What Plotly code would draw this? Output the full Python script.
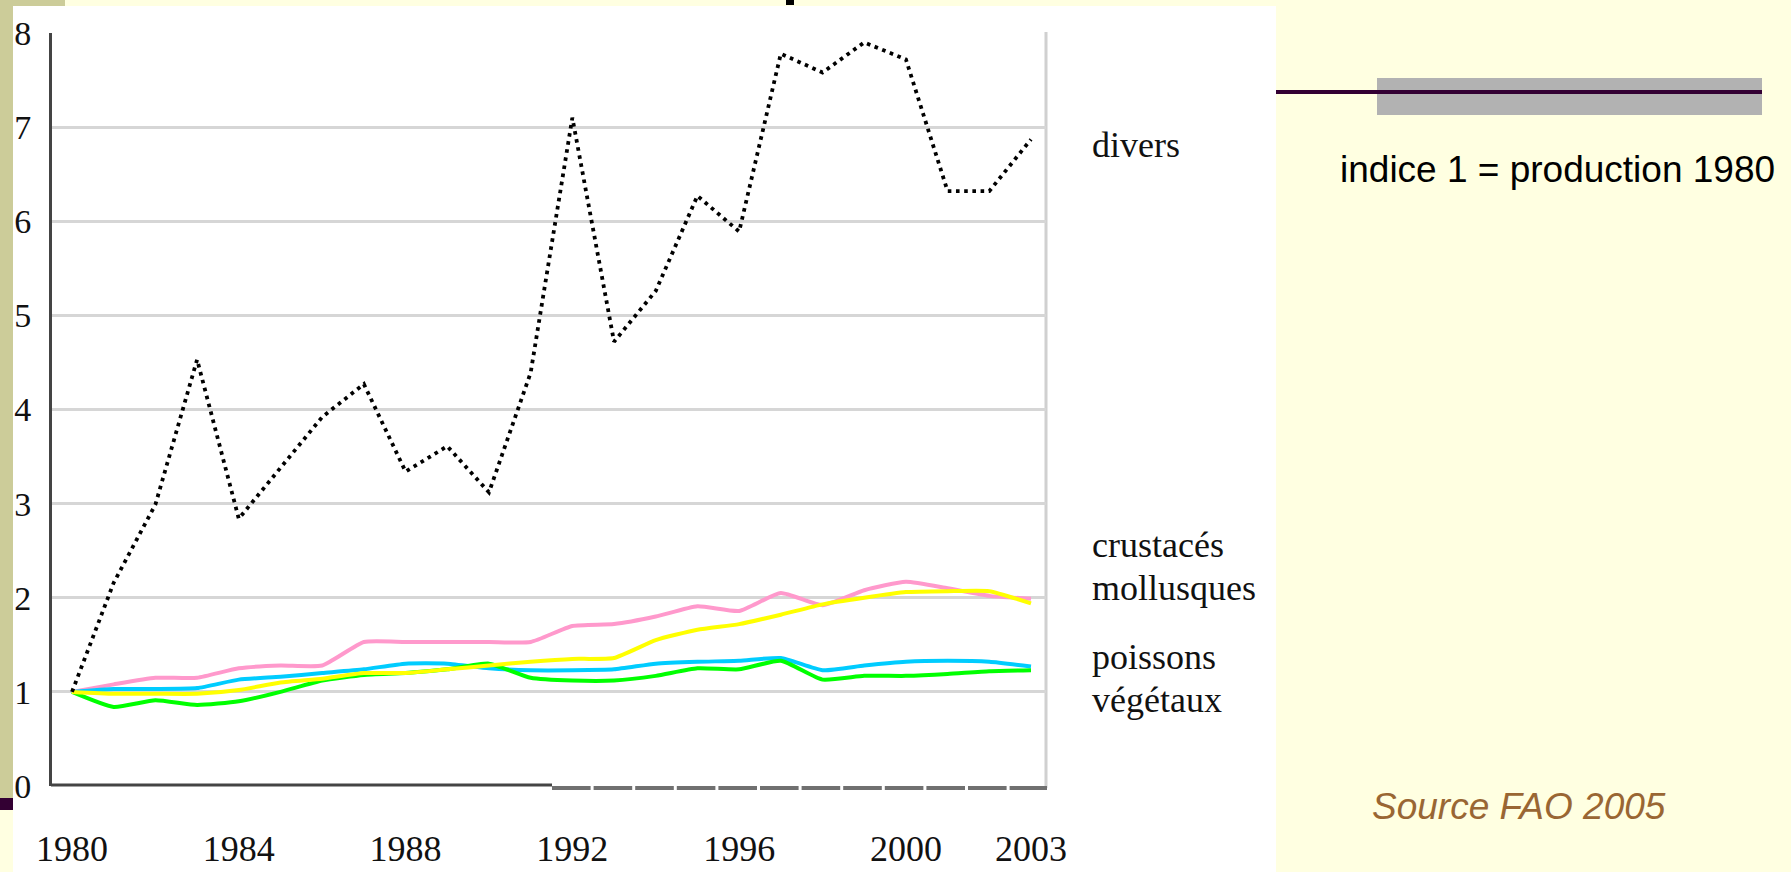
import plotly.graph_objects as go

# ---------------- data (indice 1 = production 1980) ----------------
years = list(range(1980, 2004))
divers = [1.0, 2.16, 2.99, 4.53, 2.84, 3.38, 3.92, 4.27, 3.34, 3.61, 3.12, 4.39,
          7.10, 4.72, 5.26, 6.27, 5.89, 7.78, 7.58, 7.90, 7.72, 6.32, 6.32, 6.87]
crustaces = [1.0, 1.08, 1.15, 1.15, 1.25, 1.28, 1.28, 1.53, 1.53, 1.53, 1.53, 1.53,
             1.70, 1.72, 1.80, 1.91, 1.86, 2.05, 1.92, 2.08, 2.17, 2.10, 2.02, 1.99]
mollusques = [1.0, 0.98, 0.98, 0.98, 1.02, 1.10, 1.14, 1.20, 1.20, 1.24, 1.28, 1.32,
              1.35, 1.36, 1.55, 1.66, 1.72, 1.82, 1.93, 2.00, 2.06, 2.07, 2.07, 1.94]
poissons = [1.0, 1.03, 1.03, 1.04, 1.13, 1.16, 1.20, 1.24, 1.30, 1.30, 1.25, 1.23,
            1.23, 1.24, 1.30, 1.32, 1.33, 1.36, 1.23, 1.28, 1.32, 1.33, 1.32, 1.27]
vegetaux = [1.0, 0.84, 0.91, 0.86, 0.90, 1.00, 1.12, 1.18, 1.20, 1.24, 1.30, 1.15,
            1.12, 1.12, 1.17, 1.25, 1.24, 1.33, 1.13, 1.17, 1.17, 1.19, 1.22, 1.23]
x_tick_years = [1980, 1984, 1988, 1992, 1996, 2000, 2003]
y_ticks = list(range(0, 9))
series_labels = ["divers", "crustacés", "mollusques", "poissons", "végétaux"]
note_text = "indice 1 = production 1980"
source_text = "Source FAO 2005"

# ---------------- geometry helpers (pixels -> paper) ----------------
W, H = 1791, 872
def px(x):
    return x / W
def py(y):
    return 1 - y / H

SERIF = "Liberation Serif, Times New Roman, serif"
SANS = "Liberation Sans, Arial, sans-serif"

fig = go.Figure()

# coloured series (drawn below the dotted one)
for vals, col in [(crustaces, "#FF99CC"), (poissons, "#00CCFF"),
                  (vegetaux, "#00FF00"), (mollusques, "#FFFF00")]:
    fig.add_trace(go.Scatter(x=years, y=vals, mode="lines",
                             line=dict(color=col, width=4, shape="spline", smoothing=0.5),
                             hoverinfo="skip"))

fig.add_trace(go.Scatter(x=years, y=divers, mode="lines",
                         line=dict(color="#000000", width=3.8, dash="3.6px,4.6px"),
                         hoverinfo="skip"))

shapes = [
    # white chart panel
    dict(type="rect", xref="paper", yref="paper", x0=px(13), x1=px(1276), y0=py(872), y1=py(6),
         fillcolor="white", line=dict(width=0), layer="below"),
    # olive strip on the left
    dict(type="rect", xref="paper", yref="paper", x0=px(0), x1=px(13), y0=py(798), y1=py(0),
         fillcolor="#CCCC99", line=dict(width=0), layer="below"),
    dict(type="rect", xref="paper", yref="paper", x0=px(0), x1=px(65), y0=py(6), y1=py(0),
         fillcolor="#CCCC99", line=dict(width=0), layer="below"),
    dict(type="rect", xref="paper", yref="paper", x0=px(0), x1=px(13), y0=py(810), y1=py(798),
         fillcolor="#330033", line=dict(width=0), layer="below"),
    # bit of a title letter cut off at the top
    dict(type="rect", xref="paper", yref="paper", x0=px(786), x1=px(794), y0=py(5), y1=py(0),
         fillcolor="#000000", line=dict(width=0), layer="above"),
    # right frame line of the chart
    dict(type="line", xref="paper", yref="paper", x0=px(1046), x1=px(1046), y0=py(788), y1=py(32),
         line=dict(color="#D0D0D0", width=3), layer="below"),
    # bottom axis: dark part then grey segmented part
    dict(type="line", xref="paper", yref="paper", x0=px(51), x1=px(552), y0=py(785), y1=py(785),
         line=dict(color="#444444", width=3), layer="above"),
    dict(type="line", xref="paper", yref="paper", x0=px(552), x1=px(1047), y0=py(788), y1=py(788),
         line=dict(color="#707070", width=4, dash="38.6px,3px"), layer="above"),
    # slide decoration top right
    dict(type="rect", xref="paper", yref="paper", x0=px(1377), x1=px(1762), y0=py(115), y1=py(78),
         fillcolor="#B2B2B2", line=dict(width=0), layer="below"),
    dict(type="line", xref="paper", yref="paper", x0=px(1276), x1=px(1762), y0=py(92), y1=py(92),
         line=dict(color="#330033", width=4), layer="below"),
]

annotations = []
for txt, ymid in zip(series_labels, [145, 545, 588, 657, 700]):
    annotations.append(dict(text=txt, xref="paper", yref="paper", x=px(1090), y=py(ymid),
                            xanchor="left", yanchor="middle", showarrow=False,
                            font=dict(family=SERIF, size=36, color="#111111")))
annotations.append(dict(text=note_text, xref="paper", yref="paper", x=px(1338), y=py(169),
                        xanchor="left", yanchor="middle", showarrow=False,
                        font=dict(family=SANS, size=37, color="#000000")))
annotations.append(dict(text="<i>" + source_text + "</i>", xref="paper", yref="paper",
                        x=px(1370), y=py(806), xanchor="left", yanchor="middle", showarrow=False,
                        font=dict(family=SANS, size=37, color="#996633")))

fig.update_layout(
    template="none",
    width=W, height=H, autosize=False,
    margin=dict(l=0, r=0, t=0, b=0, pad=0),
    paper_bgcolor="#FFFFE1",
    plot_bgcolor="white",
    showlegend=False,
    shapes=shapes,
    annotations=annotations,
    xaxis=dict(domain=[px(52), px(1046)], range=[1979.52, 2003.36], automargin=False,
               tickvals=x_tick_years, ticktext=[str(v) for v in x_tick_years],
               showgrid=False, zeroline=False, showline=False, ticks="",
               ticklabelstandoff=38,
               tickfont=dict(family=SERIF, size=36, color="#111111")),
    yaxis=dict(domain=[py(786), py(33)], range=[0, 8], tickvals=y_ticks, automargin=False,
               showgrid=True, gridcolor="#D6D6D6", gridwidth=3,
               zeroline=False, showline=True, linecolor="#444444", linewidth=3,
               ticks="", ticklabelstandoff=11,
               tickfont=dict(family=SERIF, size=34, color="#111111")),
)

fig.write_html("out.html", config={"displayModeBar": False},
               post_script="document.body.style.margin='0';document.body.style.overflow='hidden';")
